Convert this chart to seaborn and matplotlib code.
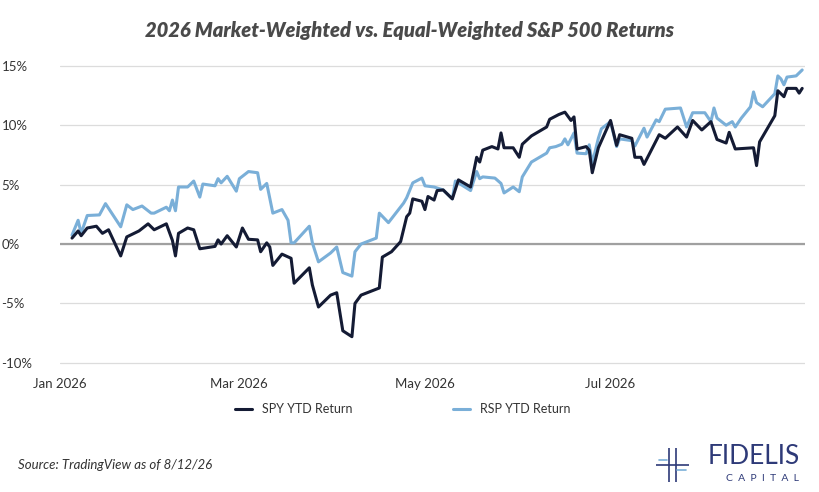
import matplotlib
matplotlib.use("Agg")
import matplotlib.pyplot as plt
import matplotlib.dates as mdates
import pandas as pd
import seaborn as sns

# DATA (days since Jan 1 2026, YTD return in %)
spy_days = [4, 6, 7, 9, 12, 14, 16, 20, 22, 26, 29, 31, 35, 37, 38, 39, 42, 44, 46, 51, 52, 53, 55, 58,
            60, 62, 65, 66, 68, 69, 70, 73, 76, 77, 82, 83, 85, 89, 91, 93, 96, 97, 99, 105, 106, 109,
            112, 114, 115, 116, 119, 120, 121, 123, 124, 126, 129, 131, 135, 137, 138, 139, 142, 144,
            145, 146, 149, 151, 152, 155, 160, 161, 164, 166, 168, 169, 170, 173, 174, 175, 177, 181,
            183, 184, 188, 189, 191, 192, 197, 199, 203, 206, 208, 211, 214, 216, 219, 220, 222, 228,
            229, 230, 235, 236, 238, 239, 242, 243, 244]
spy_ret = [0.5, 1.1, 0.7, 1.35, 1.5, 0.9, 1.2, -1.0, 0.6, 1.1, 1.7, 1.2, 1.7, 0.3, -1.0, 0.9, 1.35, 1.2,
           -0.4, -0.2, 0.35, 0.0, 0.7, -0.25, 1.35, 0.4, 0.35, -0.65, 0.1, -0.25, -1.8, -0.85, -1.2, -3.3,
           -2.0, -3.45, -5.3, -4.3, -4.1, -7.3, -7.8, -5.0, -4.3, -3.7, -1.1, -0.65, 0.2, 2.3, 2.6, 3.8,
           3.6, 2.9, 4.0, 3.7, 4.5, 4.55, 3.8, 5.4, 4.8, 7.3, 6.9, 7.9, 8.2, 8.0, 9.35, 8.1, 8.1, 7.3,
           8.4, 9.1, 9.85, 10.5, 10.9, 11.1, 10.4, 10.7, 8.0, 8.2, 7.9, 6.0, 8.1, 10.4, 8.3, 9.2, 8.9,
           7.3, 7.3, 6.7, 9.2, 8.9, 9.85, 9.0, 10.4, 9.6, 10.3, 8.8, 8.5, 9.4, 8.0, 8.1, 6.6, 8.6, 10.8,
           12.9, 12.4, 13.1, 13.1, 12.7, 13.1]

rsp_days = [4, 6, 7, 9, 13, 15, 20, 22, 24, 27, 30, 31, 35, 36, 37, 38, 39, 42, 44, 46, 47, 51, 52, 53,
            55, 58, 59, 62, 65, 66, 68, 70, 73, 75, 76, 77, 82, 83, 85, 89, 91, 93, 96, 97, 99, 104, 105,
            108, 113, 114, 116, 119, 120, 123, 126, 129, 130, 135, 137, 138, 139, 143, 145, 146, 149, 151,
            152, 155, 160, 161, 163, 165, 166, 167, 169, 170, 173, 174, 175, 177, 178, 181, 183, 184, 188,
            189, 192, 193, 196, 197, 199, 204, 206, 208, 212, 214, 215, 216, 219, 221, 222, 224, 227, 228,
            229, 231, 235, 236, 237, 238, 239, 242, 244]
rsp_ret = [0.75, 2.0, 0.9, 2.4, 2.45, 3.4, 1.45, 3.3, 2.9, 3.2, 2.6, 2.6, 3.1, 2.8, 3.7, 2.8, 4.8, 4.8,
           5.3, 3.95, 5.05, 4.9, 5.5, 5.15, 5.7, 4.45, 5.5, 6.1, 6.0, 4.6, 5.1, 2.6, 2.9, 2.0, 0.1, 0.1,
           1.5, 0.1, -1.5, -0.75, -0.25, -2.4, -2.7, -0.65, 0.0, 0.5, 2.6, 1.8, 3.45, 3.9, 5.15, 5.55,
           4.9, 4.8, 4.55, 3.8, 5.3, 4.5, 6.1, 5.5, 5.65, 5.55, 5.1, 4.3, 4.8, 4.4, 5.65, 6.9, 7.65, 8.1,
           8.2, 8.4, 8.85, 8.35, 9.35, 7.65, 7.6, 8.35, 6.8, 8.9, 9.7, 10.3, 8.2, 8.85, 8.7, 8.25, 9.75,
           9.0, 10.45, 10.3, 11.35, 11.45, 9.85, 11.05, 11.05, 10.3, 11.45, 10.6, 10.0, 10.3, 9.85, 10.6,
           11.55, 12.8, 11.9, 11.55, 12.65, 14.15, 13.9, 13.4, 14.05, 14.15, 14.65]

start = pd.Timestamp("2026-01-01")
spy = pd.DataFrame({"date": start + pd.to_timedelta(spy_days, unit="D"), "ret": spy_ret})
rsp = pd.DataFrame({"date": start + pd.to_timedelta(rsp_days, unit="D"), "ret": rsp_ret})

sns.set_style("white")
plt.rcParams["font.family"] = ["Lato", "DejaVu Sans"]

fig = plt.figure(figsize=(8.2, 4.92), dpi=100)
ax = fig.add_axes([0.073, 0.248, 0.909, 0.64])

ax.axhline(0, color="#a0a0a0", lw=1.6, zorder=1)
sns.lineplot(data=spy, x="date", y="ret", ax=ax, color="#141b34", lw=2.2, label="SPY YTD Return", zorder=3)
sns.lineplot(data=rsp, x="date", y="ret", ax=ax, color="#7aafd8", lw=2.2, label="RSP YTD Return", zorder=2)

ax.set_ylim(-10.6, 15.9)
ax.set_xlim(start, start + pd.Timedelta(days=245))
ax.set_yticks([-10, -5, 0, 5, 10, 15])
ax.set_yticklabels([f"{v}%" for v in [-10, -5, 0, 5, 10, 15]])
ax.yaxis.grid(True, color="#dcdcdc", lw=0.9)
ax.xaxis.set_major_locator(mdates.MonthLocator(bymonth=[1, 3, 5, 7]))
ax.xaxis.set_major_formatter(mdates.DateFormatter("%b %Y"))
ax.tick_params(axis="both", labelsize=9.5, colors="#333333", length=0, pad=6)
for lab in ax.get_yticklabels():
    lab.set_horizontalalignment("left")
ax.yaxis.set_tick_params(pad=42)
ax.set_xlabel("")
ax.set_ylabel("")
for s in ax.spines.values():
    s.set_visible(False)

leg = ax.legend(loc="upper center", bbox_to_anchor=(0.46, -0.07), ncol=2, frameon=False,
                fontsize=9, handlelength=1.4, columnspacing=8)
for t in leg.get_texts():
    t.set_color("#333333")

fig.text(0.5, 0.938, "2026 Market-Weighted vs. Equal-Weighted S&P 500 Returns", ha="center",
         va="center", fontsize=14.5, fontweight="heavy", fontstyle="italic", color="#4a4a4a")
fig.text(0.022, 0.055, "Source: TradingView as of 8/12/26", ha="left", va="center",
         fontsize=9.5, fontstyle="italic", color="#333333")

# logo
fig.text(0.975, 0.072, "FIDELIS", ha="right", va="center", fontsize=19, color="#2e3a78")
fig.text(0.975, 0.028, "C  A  P  I  T  A  L", ha="right", va="center", fontsize=7.5, color="#2e3a78")
lx = fig.add_axes([0.80, 0.02, 0.04, 0.07])
lx.axis("off")
lx.set_xlim(0, 1)
lx.set_ylim(0, 1)
for x in [0.4, 0.6]:
    lx.plot([x, x], [0, 1], color="#2e3a78", lw=1.2)
lx.plot([0, 1], [0.5, 0.5], color="#2e3a78", lw=1.2)
lx.plot([0.1, 0.35], [0.65, 0.65], color="#7aafd8", lw=1.2)
lx.plot([0.65, 0.9], [0.35, 0.35], color="#7aafd8", lw=1.2)

fig.savefig("out.png", dpi=100)
